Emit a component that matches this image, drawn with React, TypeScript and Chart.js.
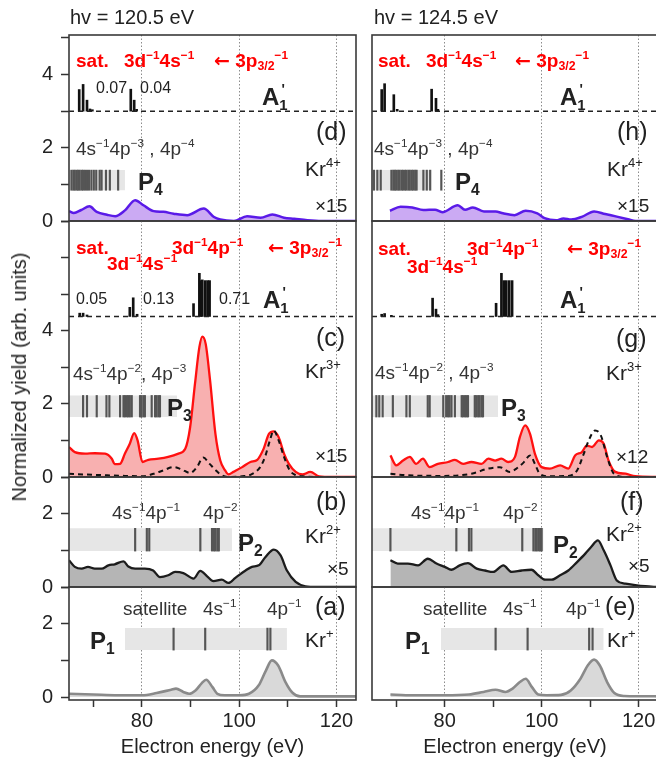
import React, { useEffect, useRef } from 'react';
import { Chart, registerables } from 'chart.js';

Chart.register(...registerables);

const FONT = '"Liberation Sans", Arial, Helvetica, sans-serif';

// ---------------- axis / tick values ----------------
const X_MIN = 65;
const X_MAX = 124;
const X_GRID = [80, 100, 120];
const X_LABELS = [80, 100, 120];
const Y_LABELS = [0, 2, 4];

// ---------------- hv = 120.5 eV (left column) ----------------
// (d) Kr4+
const XD_L = [65, 66, 67.5, 69.2, 70.7, 72.8, 74.5, 76.5, 78.6, 80.3, 82.4, 84.4, 86.5, 89.3, 92.7, 94.8, 96.1, 98.9, 101.6, 104.4, 106.8, 109.2, 111.3, 114, 117, 120, 124];
const YD_L = [0.27, 0.22, 0.3, 0.4, 0.25, 0.17, 0.13, 0.29, 0.57, 0.43, 0.27, 0.25, 0.2, 0.16, 0.34, 0.11, 0.04, 0.0, 0.13, 0.09, 0.18, 0.09, 0.06, 0.02, 0, 0, 0];
const STK_D_L_X = [67.1, 67.9, 68.7, 69.3, 69.8, 77.7, 78.4, 78.9];
const STK_D_L_H = [0.59, 0.73, 0.3, 0.06, 0.04, 0.6, 0.3, 0.05];
const P4_L = [65.5, 65.9, 66.2, 66.6, 66.9, 67.2, 67.6, 67.9, 68.3, 68.7, 69.1, 69.6, 70.1, 70.6, 71.3, 71.7, 72.6, 73.4, 75.1];
// (c) Kr3+
const XC_L = [65, 66.2, 68.3, 70.3, 72.4, 73.8, 74.4, 75.5, 76.5, 77.5, 78.4, 79.1, 80.1, 81.3, 83.4, 85.4, 87.5, 88.9, 89.9, 90.9, 91.8, 92.4, 93.1, 94.0, 95.1, 96.1, 97.1, 97.8, 98.8, 100.6, 102.3, 103.7, 105.0, 106.1, 107.1, 108.1, 109.2, 110.2, 111.6, 113.0, 114.6, 116.4, 119.1, 124];
const YC_L = [0.82, 0.68, 0.64, 0.65, 0.64, 0.5, 0.35, 0.36, 0.64, 0.91, 1.2, 1.0, 0.41, 0.47, 0.5, 0.55, 0.64, 0.77, 1.36, 2.55, 3.55, 3.84, 3.64, 2.64, 1.18, 0.45, 0.18, 0.07, 0.14, 0.27, 0.41, 0.47, 0.77, 1.18, 1.25, 1.09, 0.64, 0.36, 0.14, 0.07, 0.14, 0.02, 0, 0];
const XCD_L = [65, 68, 72, 76.5, 80.1, 82.4, 84.4, 86.5, 88.1, 89.9, 91.3, 92.6, 93.9, 95.2, 96.4, 98, 100.6, 102.5, 104.3, 105.3, 106.3, 107.1, 108.1, 109.2, 110.4, 111.6, 113, 116, 124];
const YCD_L = [0.09, 0.07, 0.05, 0.03, 0.02, 0.09, 0.18, 0.27, 0.21, 0.11, 0.27, 0.53, 0.36, 0.18, 0.05, 0, 0.02, 0.07, 0.27, 0.55, 1.0, 1.27, 1.0, 0.55, 0.18, 0.05, 0.02, 0, 0];
const STK_C_L_X = [67.2, 67.9, 68.7, 77.5, 78.2, 79.0, 90.6, 91.8, 92.1, 92.4, 93.0, 93.5, 93.9];
const STK_C_L_H = [0.09, 0.09, 0.04, 0.25, 0.51, 0.06, 0.35, 1.18, 0.98, 1.0, 0.98, 0.98, 0.98];
const P3_L = [67.9, 68.7, 70.7, 72.7, 73.3, 75.5, 76.2, 76.5, 76.9, 77.2, 77.5, 77.9, 79.6, 79.9, 80.3, 80.6, 82.0, 82.7, 83.0, 83.4, 83.7];
// (b) Kr2+
const XB_L = [65, 66.2, 67.6, 68.9, 70.3, 71.7, 73.1, 74.4, 76.2, 77.2, 78.6, 80.6, 82.3, 83.7, 85.4, 86.8, 88.5, 90.6, 92.0, 93.4, 94.7, 96.4, 97.8, 99.2, 101.3, 102.6, 104.0, 105.4, 107.1, 108.5, 109.8, 111.6, 113.6, 116, 124];
const YB_L = [0.73, 0.55, 0.5, 0.55, 0.5, 0.5, 0.59, 0.62, 0.7, 0.56, 0.5, 0.5, 0.45, 0.27, 0.32, 0.41, 0.38, 0.23, 0.44, 0.29, 0.16, 0.2, 0.11, 0.25, 0.45, 0.55, 0.59, 0.82, 1.02, 0.86, 0.45, 0.14, 0.02, 0, 0];
const P2_L = [78.6, 81.0, 81.5, 92.0, 94.4, 94.8, 95.1, 95.5, 95.8];
// (a) Kr+
const XA_L = [65, 70, 75, 80, 83, 86, 87, 88.5, 89.7, 91, 92.3, 93.2, 94.5, 95.5, 97, 100, 102, 104, 105.5, 106.7, 108, 109.5, 111, 112.5, 124];
const YA_L = [0.09, 0.07, 0.05, 0.05, 0.11, 0.2, 0.23, 0.14, 0.09, 0.18, 0.38, 0.47, 0.27, 0.09, 0.05, 0.05, 0.09, 0.32, 0.73, 1.0, 0.86, 0.41, 0.11, 0.02, 0.02];
const P1_L = [86.5, 93.0, 105.8, 106.4];

// ---------------- hv = 124.5 eV (right column) ----------------
const XD_R = [68.7, 70.9, 73.3, 75.6, 78.0, 79.5, 82.7, 84.2, 85.8, 88.1, 90.5, 92.0, 94.4, 96.7, 99.1, 100.6, 103.0, 104.5, 106.1, 108.4, 110.8, 113.1, 115.5, 117.8, 119.4, 124];
const YD_R = [0.28, 0.39, 0.37, 0.3, 0.31, 0.24, 0.43, 0.31, 0.37, 0.26, 0.26, 0.21, 0.16, 0.28, 0.21, 0.08, 0.02, 0.07, 0.04, 0.12, 0.26, 0.19, 0.12, 0.05, 0, 0];
const STK_D_R_X = [67.0, 67.6, 69.5, 70.2, 77.3, 78.2, 78.6];
const STK_D_R_H = [0.59, 0.75, 0.45, 0.05, 0.6, 0.35, 0.05];
const P4_R = [65.4, 66.1, 66.8, 69.0, 69.4, 69.7, 70.0, 70.4, 70.7, 71.1, 71.4, 71.8, 72.1, 72.5, 72.8, 73.2, 73.5, 73.9, 74.2, 75.6, 76.3, 77.0, 79.3];
const XC_R = [68.8, 70.0, 71.4, 72.8, 74.1, 75.5, 76.9, 78.6, 80.7, 82.1, 83.8, 85.5, 87.6, 89.0, 90.4, 91.7, 93.1, 94.5, 95.5, 96.6, 97.6, 98.6, 100.0, 101.7, 103.8, 105.5, 106.9, 108.3, 109.3, 110.4, 111.8, 112.8, 113.8, 115.2, 117.3, 119.3, 124];
const YC_R = [0.59, 0.32, 0.45, 0.55, 0.36, 0.5, 0.27, 0.36, 0.41, 0.47, 0.36, 0.41, 0.36, 0.5, 0.45, 0.5, 0.41, 0.55, 1.09, 1.41, 1.18, 0.64, 0.27, 0.23, 0.32, 0.23, 0.59, 0.68, 0.86, 0.82, 1.0, 0.91, 0.45, 0.14, 0.09, 0.02, 0];
const XCD_R = [68.8, 72, 80, 85.5, 89.0, 91.4, 93.4, 94.8, 96.3, 97.6, 98.6, 99.6, 101.4, 105.5, 107.3, 108.7, 109.7, 111.0, 112.2, 113.5, 114.9, 117, 124];
const YCD_R = [0.09, 0.05, 0.03, 0.09, 0.23, 0.27, 0.14, 0.23, 0.4, 0.59, 0.36, 0.09, 0.02, 0.03, 0.18, 0.64, 1.0, 1.27, 1.14, 0.55, 0.09, 0, 0];
const STK_C_R_X = [67.0, 67.6, 69.0, 77.5, 78.2, 78.6, 90.6, 91.7, 92.2, 92.7, 93.3, 93.9];
const STK_C_R_H = [0.06, 0.08, 0.03, 0.5, 0.2, 0.05, 0.36, 1.18, 0.98, 0.98, 0.98, 0.98];
const P3_R = [65.9, 66.5, 67.2, 69.3, 72.1, 72.8, 76.5, 76.9, 79.7, 80.3, 80.7, 81.0, 81.4, 82.1, 83.5, 83.8, 84.2, 84.5, 84.8, 86.2, 86.5, 86.9, 87.2, 87.6, 87.9];
const XB_R = [68.8, 70.3, 72.4, 74.5, 76.5, 78.3, 80.0, 81.4, 83.1, 84.8, 86.6, 88.3, 90.0, 92.1, 93.8, 95.9, 97.9, 99.3, 100.7, 102.1, 103.8, 105.5, 107.3, 109.0, 110.2, 111.6, 112.8, 114.2, 115.5, 117.3, 119.3, 121.4, 124];
const YB_R = [0.73, 0.64, 0.64, 0.59, 0.77, 0.64, 0.55, 0.47, 0.59, 0.65, 0.5, 0.45, 0.41, 0.59, 0.41, 0.45, 0.47, 0.32, 0.2, 0.2, 0.32, 0.45, 0.68, 0.91, 1.09, 1.27, 1.0, 0.59, 0.18, 0.09, 0.05, 0.02, 0];
const P2_R = [68.8, 82.4, 85.0, 85.5, 96.0, 98.3, 98.7, 99.0, 99.4, 99.7, 100.0];
const XA_R = [68.8, 72, 80, 85, 88, 90.5, 92.5, 94, 95.5, 96.7, 98, 99.3, 101, 104, 106, 108, 109.5, 110.8, 112, 113.5, 115, 117, 124];
const YA_R = [0.07, 0.05, 0.05, 0.07, 0.14, 0.2, 0.14, 0.23, 0.41, 0.5, 0.27, 0.07, 0.05, 0.06, 0.18, 0.5, 0.86, 1.02, 0.86, 0.41, 0.11, 0.03, 0.02];
const P1_R = [90.5, 97.1, 109.8, 110.5];

// stick-spectrum baselines and transition-bar boxes (data units)
const BASE_D = 3.0;
const BASE_C = 4.39;
const BOX_D = [0.84, 1.39];
const BOX_C = [1.64, 2.23];
const BOX_B = [0.98, 1.6];
const BOX_A = [1.28, 1.88];
const BOXX = {
  dL: [65, 76.5], cL: [65, 87.2], bL: [65, 98.5], aL: [76.5, 109.8],
  dR: [65, 77.3], cR: [65, 91.0], bR: [65, 100.4], aR: [79.2, 112.8],
};

// ---------------- helpers ----------------
const toXY = (xs: number[], ys: number[]) => xs.map((x, i) => ({ x, y: ys[i] }));

const curve = (xs: number[], ys: number[], color: string, fillColor: string, width = 2.3) => ({
  type: 'line', data: toXY(xs, ys), borderColor: color, backgroundColor: fillColor,
  fill: 'origin', borderWidth: width, pointRadius: 0, cubicInterpolationMode: 'monotone', order: 5,
});
const dashedCurve = (xs: number[], ys: number[]) => ({
  type: 'line', data: toXY(xs, ys), borderColor: '#111', borderDash: [5, 4], fill: false,
  borderWidth: 2, pointRadius: 0, cubicInterpolationMode: 'monotone', order: 2,
});
const hline = (y: number) => ({
  type: 'line', data: [{ x: X_MIN, y }, { x: X_MAX, y }], borderColor: '#222', borderDash: [5, 4],
  borderWidth: 1.5, pointRadius: 0, fill: false, order: 3,
});
const sticks = (xs: number[], hs: number[], base: number) => ({
  type: 'bar', data: xs.map((x, i) => ({ x, y: [base, base + hs[i]] })), backgroundColor: '#111',
  barThickness: 2, grouped: false, borderWidth: 0, order: 4,
});
const pbox = (xr: number[], yr: number[]) => ({
  type: 'line', data: [{ x: xr[0], y: yr[1] }, { x: xr[1], y: yr[1] }], borderColor: 'rgba(0,0,0,0)',
  borderWidth: 0, pointRadius: 0, backgroundColor: '#e6e6e6', fill: { value: yr[0] }, order: 12,
});
const plines = (xs: number[], yr: number[]) => ({
  type: 'bar', data: xs.map((x) => ({ x, y: [yr[0], yr[1]] })), backgroundColor: '#555',
  barThickness: 1.5, grouped: false, borderWidth: 0, order: 11,
});

const PURPLE = '#5a1ae8', PURPLE_F = '#cbaaf3';
const RED = '#ff1010', PINK = '#f8b0b0';

const DATASETS: Record<string, any[]> = {
  dL: [pbox(BOXX.dL, BOX_D), plines(P4_L, BOX_D), hline(BASE_D), sticks(STK_D_L_X, STK_D_L_H, BASE_D), curve(XD_L, YD_L, PURPLE, PURPLE_F, 2.5)],
  cL: [pbox(BOXX.cL, BOX_C), plines(P3_L, BOX_C), hline(BASE_C), sticks(STK_C_L_X, STK_C_L_H, BASE_C), curve(XC_L, YC_L, RED, PINK), dashedCurve(XCD_L, YCD_L)],
  bL: [pbox(BOXX.bL, BOX_B), plines(P2_L, BOX_B), curve(XB_L, YB_L, '#1c1c1c', '#b5b5b5')],
  aL: [pbox(BOXX.aL, BOX_A), plines(P1_L, BOX_A), curve(XA_L, YA_L, '#8a8a8a', '#d9d9d9', 2.6)],
  dR: [pbox(BOXX.dR, BOX_D), plines(P4_R, BOX_D), hline(BASE_D), sticks(STK_D_R_X, STK_D_R_H, BASE_D), curve(XD_R, YD_R, PURPLE, PURPLE_F, 2.5)],
  cR: [pbox(BOXX.cR, BOX_C), plines(P3_R, BOX_C), hline(BASE_C), sticks(STK_C_R_X, STK_C_R_H, BASE_C), curve(XC_R, YC_R, RED, PINK), dashedCurve(XCD_R, YCD_R)],
  bR: [pbox(BOXX.bR, BOX_B), plines(P2_R, BOX_B), curve(XB_R, YB_R, '#1c1c1c', '#b5b5b5')],
  aR: [pbox(BOXX.aR, BOX_A), plines(P1_R, BOX_A), curve(XA_R, YA_R, '#8a8a8a', '#d9d9d9', 2.6)],
};

// ---------------- layout ----------------
const ROWS: Record<string, { top: number; h: number; ymin: number; ymax: number }> = {
  d: { top: 35, h: 186, ymin: 0, ymax: 5.08 },
  c: { top: 221, h: 256, ymin: 0, ymax: 7 },
  b: { top: 477, h: 110, ymin: 0, ymax: 3 },
  a: { top: 587, h: 113, ymin: -0.08, ymax: 3 },
};
const COLS: Record<string, { areaLeft: number; areaW: number; canvasLeft: number }> = {
  L: { areaLeft: 69, areaW: 287, canvasLeft: 0 },
  R: { areaLeft: 372, areaW: 286, canvasLeft: 364 },
};
const PAD = 14;
const PAGE_H = 761;

const framePlugin = {
  id: 'frame',
  afterDatasetsDraw(chart: any) {
    const { ctx, chartArea: a } = chart;
    ctx.save();
    ctx.strokeStyle = '#3a3a3a';
    ctx.lineWidth = 1.6;
    ctx.strokeRect(a.left, a.top, a.right - a.left, a.bottom - a.top);
    ctx.restore();
  },
};

function Panel({ col, row }: { col: string; row: string }) {
  const ref = useRef<HTMLCanvasElement>(null);
  const { areaLeft, areaW, canvasLeft } = COLS[col];
  const { top, h, ymin, ymax } = ROWS[row];
  const bottom = row === 'a';
  const yLabels = col === 'L';
  const yAxisW = areaLeft - canvasLeft;
  const xAxisH = bottom ? PAGE_H - (top + h) : PAD;
  const cw = yAxisW + areaW + 4;
  const ch = PAD + h + xAxisH;
  const ct = top - PAD;

  useEffect(() => {
    const chart = new Chart(ref.current as HTMLCanvasElement, {
      type: 'line',
      data: { datasets: DATASETS[row + col] as any },
      options: {
        responsive: false,
        animation: false,
        devicePixelRatio: 1,
        events: [],
        layout: { padding: { top: PAD, right: 4, left: 0, bottom: 0 } },
        plugins: { legend: { display: false }, tooltip: { enabled: false } },
        scales: {
          x: {
            type: 'linear',
            min: X_MIN,
            max: X_MAX,
            offset: false,
            afterFit: (s: any) => { s.height = xAxisH; s.paddingLeft = 0; s.paddingRight = 0; },
            ticks: {
              stepSize: 10,
              includeBounds: false,
              autoSkip: false,
              maxRotation: 0,
              display: bottom,
              padding: 2,
              color: '#222',
              font: { size: 20, family: FONT },
              callback: (v: any) => (X_LABELS.includes(v) ? String(v) : ''),
            },
            grid: {
              offset: false,
              drawOnChartArea: true,
              drawTicks: bottom,
              tickLength: 7,
              tickWidth: 1.5,
              lineWidth: 1,
              color: (c: any) => (c.tick && X_GRID.includes(c.tick.value) ? '#8c8c8c' : 'rgba(0,0,0,0)'),
              tickColor: (c: any) => (c.tick && c.tick.value % 10 === 0 ? '#333' : 'rgba(0,0,0,0)'),
            },
            border: { display: false, dash: [1.5, 2] },
            title: {
              display: bottom,
              text: 'Electron energy (eV)',
              color: '#222',
              font: { size: 20, family: FONT },
              padding: { top: 0, bottom: 2 },
            },
          },
          y: {
            type: 'linear',
            min: ymin,
            max: ymax,
            afterFit: (s: any) => { s.width = yAxisW; s.paddingTop = 0; s.paddingBottom = 0; },
            ticks: {
              stepSize: 1,
              includeBounds: false,
              display: yLabels,
              padding: 8,
              color: '#222',
              font: { size: 20, family: FONT },
              callback: (v: any) => (Y_LABELS.includes(v) ? String(v) : ''),
            },
            grid: {
              offset: false,
              drawOnChartArea: false,
              drawTicks: yLabels,
              tickLength: 8,
              tickWidth: 1.5,
              tickColor: '#333',
            },
            border: { display: false },
          },
        },
      } as any,
      plugins: [framePlugin],
    } as any);
    return () => chart.destroy();
  }, []);

  return (
    <canvas
      ref={ref}
      width={cw}
      height={ch}
      style={{ position: 'absolute', left: canvasLeft, top: ct, width: cw, height: ch }}
    />
  );
}

// ---------------- text helpers ----------------
const Sup = ({ children }: any) => (
  <span style={{ fontSize: '0.62em', position: 'relative', top: '-0.62em' }}>{children}</span>
);
const Sub = ({ children }: any) => (
  <span style={{ fontSize: '0.65em', position: 'relative', top: '0.32em' }}>{children}</span>
);
const T = ({ x, y, s = 19, b = false, c = '#222', children }: any) => (
  <div
    style={{
      position: 'absolute', left: x, top: y - s / 2, fontSize: s, fontWeight: b ? 700 : 400,
      color: c, lineHeight: 1, whiteSpace: 'nowrap', fontFamily: FONT,
    }}
  >
    {children}
  </div>
);
const A1 = ({ x, y }: any) => (
  <T x={x} y={y} s={24} b>
    A<span style={{ fontSize: '0.62em', position: 'relative', top: '0.35em' }}>1</span>
    <span style={{ fontSize: '0.6em', position: 'relative', top: '-0.75em', marginLeft: '-0.42em' }}>'</span>
  </T>
);
const RED_T = '#ff0000';
const M = '\u2212';
const Arrow = () => (
  <span style={{ fontFamily: '"DejaVu Sans", sans-serif', fontWeight: 700 }}>{'\u2190'}</span>
);

const SatRow = ({ sx, s4x, s4y, p4x, arrowx, y }: any) => (
  <>
    <T x={sx} y={y} b c={RED_T}>sat.</T>
    <T x={s4x} y={s4y} b c={RED_T}>3d<Sup>{M}1</Sup>4s<Sup>{M}1</Sup></T>
    {p4x !== null && <T x={p4x} y={y} b c={RED_T}>3d<Sup>{M}1</Sup>4p<Sup>{M}1</Sup></T>}
    <T x={arrowx} y={y} b c={RED_T}><Arrow /> 3p<Sub>3/2</Sub><Sup>{M}1</Sup></T>
  </>
);

function Overlay() {
  return (
    <>
      <T x={70} y={17} s={20}>hv = 120.5 eV</T>
      <T x={374} y={17} s={20}>hv = 124.5 eV</T>
      <div
        style={{
          position: 'absolute', left: 19, top: 377, transform: 'translate(-50%, -50%) rotate(-90deg)',
          fontSize: 20, fontFamily: FONT, color: '#222', whiteSpace: 'nowrap', lineHeight: 1,
        }}
      >
        Normalized yield (arb. units)
      </div>

      {/* panel d / h */}
      <SatRow sx={76} s4x={124} s4y={60} p4x={null} arrowx={214} y={60} />
      <SatRow sx={378} s4x={426} s4y={60} p4x={null} arrowx={515} y={60} />
      <T x={96} y={88} s={16}>0.07</T>
      <T x={140} y={88} s={16}>0.04</T>
      <A1 x={262} y={97} />
      <A1 x={560} y={97} />
      <T x={316} y={131} s={25}>(d)</T>
      <T x={617} y={131} s={25}>(h)</T>
      <T x={305} y={168} s={21}>Kr<Sup>4+</Sup></T>
      <T x={607} y={168} s={21}>Kr<Sup>4+</Sup></T>
      <T x={315} y={205}>×15</T>
      <T x={617} y={205}>×15</T>
      <T x={76} y={148} c="#333">4s<Sup>{M}1</Sup>4p<Sup>{M}3</Sup> , 4p<Sup>{M}4</Sup></T>
      <T x={374} y={148} c="#333">4s<Sup>{M}1</Sup>4p<Sup>{M}3</Sup> , 4p<Sup>{M}4</Sup></T>
      <T x={138} y={182} s={24} b>P<Sub>4</Sub></T>
      <T x={455} y={182} s={24} b>P<Sub>4</Sub></T>

      {/* panel c / g */}
      <SatRow sx={76} s4x={107} s4y={263} p4x={172} arrowx={268} y={247} />
      <SatRow sx={378} s4x={407} s4y={266} p4x={467} arrowx={567} y={248} />
      <T x={76} y={299} s={16}>0.05</T>
      <T x={143} y={299} s={16}>0.13</T>
      <T x={219} y={299} s={16}>0.71</T>
      <A1 x={263} y={300} />
      <A1 x={560} y={300} />
      <T x={316} y={337} s={25}>(c)</T>
      <T x={616} y={338} s={25}>(g)</T>
      <T x={305} y={370} s={21}>Kr<Sup>3+</Sup></T>
      <T x={606} y={372} s={21}>Kr<Sup>3+</Sup></T>
      <T x={73} y={373} c="#333">4s<Sup>{M}1</Sup>4p<Sup>{M}2</Sup>, 4p<Sup>{M}3</Sup></T>
      <T x={375} y={372} c="#333">4s<Sup>{M}1</Sup>4p<Sup>{M}2</Sup> , 4p<Sup>{M}3</Sup></T>
      <T x={167} y={408} s={24} b>P<Sub>3</Sub></T>
      <T x={501} y={408} s={24} b>P<Sub>3</Sub></T>
      <T x={315} y={455}>×15</T>
      <T x={616} y={456}>×12</T>

      {/* panel b / f */}
      <T x={316} y={501} s={25}>(b)</T>
      <T x={620} y={501} s={25}>(f)</T>
      <T x={305} y={535} s={21}>Kr<Sup>2+</Sup></T>
      <T x={606} y={533} s={21}>Kr<Sup>2+</Sup></T>
      <T x={327} y={568}>×5</T>
      <T x={628} y={565}>×5</T>
      <T x={112} y={512} c="#333">4s<Sup>{M}1</Sup>4p<Sup>{M}1</Sup></T>
      <T x={411} y={512} c="#333">4s<Sup>{M}1</Sup>4p<Sup>{M}1</Sup></T>
      <T x={203} y={512} c="#333">4p<Sup>{M}2</Sup></T>
      <T x={503} y={512} c="#333">4p<Sup>{M}2</Sup></T>
      <T x={238} y={543} s={24} b>P<Sub>2</Sub></T>
      <T x={553} y={545} s={24} b>P<Sub>2</Sub></T>

      {/* panel a / e */}
      <T x={315} y={606} s={25}>(a)</T>
      <T x={605} y={606} s={25}>(e)</T>
      <T x={305} y={639} s={21}>Kr<Sup>+</Sup></T>
      <T x={607} y={639} s={21}>Kr<Sup>+</Sup></T>
      <T x={123} y={608} c="#333">satellite</T>
      <T x={423} y={608} c="#333">satellite</T>
      <T x={203} y={608} c="#333">4s<Sup>{M}1</Sup></T>
      <T x={503} y={608} c="#333">4s<Sup>{M}1</Sup></T>
      <T x={267} y={608} c="#333">4p<Sup>{M}1</Sup></T>
      <T x={566} y={608} c="#333">4p<Sup>{M}1</Sup></T>
      <T x={90} y={641} s={24} b>P<Sub>1</Sub></T>
      <T x={405} y={641} s={24} b>P<Sub>1</Sub></T>
    </>
  );
}

export default function App() {
  return (
    <div
      style={{
        position: 'absolute', left: 0, top: 0, width: 656, height: 761, overflow: 'hidden',
        background: '#fff', fontFamily: FONT,
      }}
    >
      {['d', 'c', 'b', 'a'].map((r) => (
        <React.Fragment key={r}>
          <Panel col="L" row={r} />
          <Panel col="R" row={r} />
        </React.Fragment>
      ))}
      <Overlay />
    </div>
  );
}
